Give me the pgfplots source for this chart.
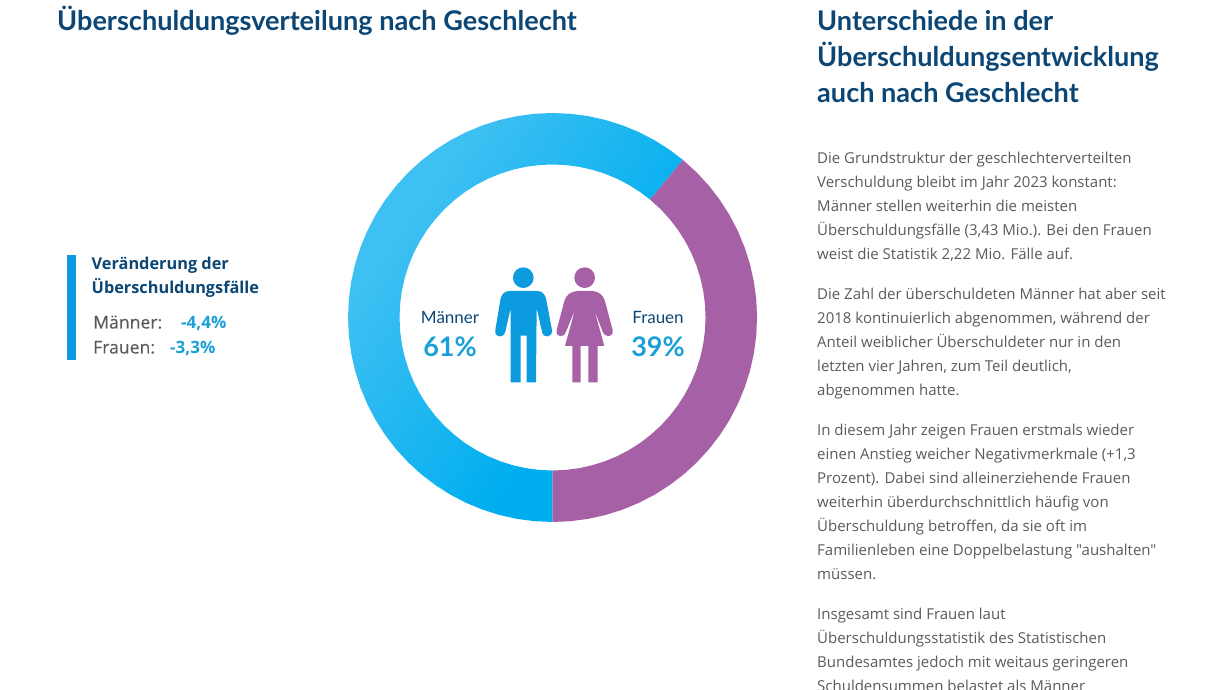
\documentclass[border=0pt]{standalone}
\usepackage{fontspec}
\usepackage{pgfplots}
\pgfplotsset{compat=1.18}
\setmainfont{Open Sans}[Ligatures=TeXOff]
\newfontfamily\headfont{Lato}
\newfontfamily\semifont{Open Sans}[FakeBold=0.25,Ligatures=TeXOff]
\definecolor{headblue}{HTML}{0B4675}
\definecolor{bodygrey}{HTML}{5A5A5A}
\definecolor{statblue}{HTML}{1A9FD9}
\definecolor{barblue}{HTML}{0C9BDE}
\definecolor{ringlight}{HTML}{3FC0F2}
\definecolor{ringblue}{HTML}{00AEEF}
\definecolor{ringpurple}{HTML}{A661A6}
\pgfdeclareverticalshading{ringgrad}{100bp}{color(0bp)=(ringblue); color(38bp)=(ringblue); color(70bp)=(ringlight); color(100bp)=(ringlight)}
\newcommand{\fs}[1]{\fontsize{#1}{#1}\selectfont}
\newcommand{\txt}[3]{\node[anchor=base west,inner sep=0pt,text=bodygrey,font=\fs{15}] at (#1,#2+0.7) {#3};}
\newcommand{\head}[3]{\node[anchor=base west,inner sep=0pt,text=headblue,font=\headfont\bfseries\fs{27.1}] at (#1,#2) {#3};}
\begin{document}
\begin{tikzpicture}
\clip (0,0) rectangle (1226pt,690pt);
\begin{axis}[
  hide axis,
  scale only axis,
  width=1226pt,
  height=690pt,
  xmin=-552.5, xmax=673.5,
  ymin=-372.5, ymax=317.5,
]
% Maenner 61 % = 219.6 deg clockwise from the bottom
\addplot[data cs=polar, draw=none, shade, shading=ringgrad, shading angle=55] coordinates {
 (270,204.5)(265,204.5)(260,204.5)(255,204.5)(250,204.5)(245,204.5)(240,204.5)(235,204.5)(230,204.5)(225,204.5)
 (220,204.5)(215,204.5)(210,204.5)(205,204.5)(200,204.5)(195,204.5)(190,204.5)(185,204.5)(180,204.5)(175,204.5)
 (170,204.5)(165,204.5)(160,204.5)(155,204.5)(150,204.5)(145,204.5)(140,204.5)(135,204.5)(130,204.5)(125,204.5)
 (120,204.5)(115,204.5)(110,204.5)(105,204.5)(100,204.5)(95,204.5)(90,204.5)(85,204.5)(80,204.5)(75,204.5)
 (70,204.5)(65,204.5)(60,204.5)(55,204.5)(50.4,204.5)
 (50.4,153)(55,153)(60,153)(65,153)(70,153)(75,153)(80,153)(85,153)(90,153)(95,153)
 (100,153)(105,153)(110,153)(115,153)(120,153)(125,153)(130,153)(135,153)(140,153)(145,153)
 (150,153)(155,153)(160,153)(165,153)(170,153)(175,153)(180,153)(185,153)(190,153)(195,153)
 (200,153)(205,153)(210,153)(215,153)(220,153)(225,153)(230,153)(235,153)(240,153)(245,153)
 (250,153)(255,153)(260,153)(265,153)(270,153)
};
% Frauen 39 % = 140.4 deg
\addplot[data cs=polar, draw=none, fill=ringpurple] coordinates {
 (270,204.5)(275,204.5)(280,204.5)(285,204.5)(290,204.5)(295,204.5)(300,204.5)(305,204.5)(310,204.5)(315,204.5)
 (320,204.5)(325,204.5)(330,204.5)(335,204.5)(340,204.5)(345,204.5)(350,204.5)(355,204.5)(360,204.5)(365,204.5)
 (370,204.5)(375,204.5)(380,204.5)(385,204.5)(390,204.5)(395,204.5)(400,204.5)(405,204.5)(410.4,204.5)
 (410.4,153)(405,153)(400,153)(395,153)(390,153)(385,153)(380,153)(375,153)(370,153)(365,153)
 (360,153)(355,153)(350,153)(345,153)(340,153)(335,153)(330,153)(325,153)(320,153)(315,153)
 (310,153)(305,153)(300,153)(295,153)(290,153)(285,153)(280,153)(275,153)(270,153)
};
\end{axis}
% page coordinates: 1 unit = 1 px, y downwards
\begin{scope}[x=1pt,y=-1pt,yshift=690pt]
\head{57}{30.7}{Überschuldungsverteilung nach Geschlecht}
\head{817}{30.7}{Unterschiede in der}
\head{817}{66.7}{Überschuldungsentwicklung}
\head{817}{102.7}{auch nach Geschlecht}

% left panel
\fill[barblue] (67,255) rectangle (75.5,360.5);
\node[anchor=base west,inner sep=0pt,text=headblue,font=\bfseries\fs{16.3}] at (91.5,269.5) {Veränderung der};
\node[anchor=base west,inner sep=0pt,text=headblue,font=\bfseries\fs{16.3}] at (91.5,293.2) {Überschuldungsfälle};
\node[anchor=base west,inner sep=0pt,text=bodygrey,font=\semifont\fs{17.6}] at (93,328.5) {Männer:};
\node[anchor=base west,inner sep=0pt,text=bodygrey,font=\semifont\fs{17.6}] at (93,353.5) {Frauen:};
\node[anchor=base west,inner sep=0pt,text=statblue,font=\bfseries\fs{17}] at (181,328.5) {-4,4\%};
\node[anchor=base west,inner sep=0pt,text=statblue,font=\bfseries\fs{17}] at (170,353.5) {-3,3\%};

% centre labels
\node[anchor=base,inner sep=0pt,text=headblue,font=\headfont\fs{17}] at (450,324) {Männer};
\node[anchor=base,inner sep=0pt,text=headblue,font=\headfont\fs{17}] at (658,324) {Frauen};
\node[anchor=base,inner sep=0pt,text=statblue,font=\headfont\bfseries\fs{27}] at (450,356.5) {61\%};
\node[anchor=base,inner sep=0pt,text=statblue,font=\headfont\bfseries\fs{27}] at (658,356.5) {39\%};

% figures, traced in 3x crop coordinates
\begin{scope}[shift={(410,255)},x=0.3333pt,y=-0.3333pt]
\fill[barblue] (340,68) circle[radius=31];
\fill[barblue] (300,108) -- (380,108) .. controls (395,108) and (403,115) .. (408,130) -- (426,225)
  .. controls (428,248) and (400,252) .. (396,230) -- (380,160) -- (378,382) -- (350,382) -- (350,242)
  -- (332,242) -- (332,382) -- (302,382) -- (302,160) -- (286,230)
  .. controls (280,252) and (252,248) .. (256,225) -- (272,130)
  .. controls (277,115) and (285,108) .. (300,108) -- cycle;
\fill[ringpurple] (524,68) circle[radius=31];
\fill[ringpurple] (505,108) -- (545,108) .. controls (570,110) and (577,120) .. (584,135) -- (608,225)
  .. controls (612,248) and (585,250) .. (578,230) -- (553,165) -- (583,273) -- (563,273) -- (563,382)
  -- (535,382) -- (535,273) -- (512,273) -- (512,382) -- (487,382) -- (487,273) -- (465,273)
  -- (495,165) -- (468,230) .. controls (462,250) and (436,248) .. (440,225) -- (464,135)
  .. controls (470,120) and (480,110) .. (505,108) -- cycle;
\end{scope}

% right column
\txt{817}{163}{Die Grundstruktur der geschlechterverteilten}
\txt{817}{187}{Verschuldung bleibt im Jahr 2023 konstant:}
\txt{817}{211}{Männer stellen weiterhin die meisten}
\txt{817}{235}{Überschuldungsfälle (3,43 Mio.). Bei den Frauen}
\txt{817}{259}{weist die Statistik 2,22 Mio. Fälle auf.}
\txt{817}{299}{Die Zahl der überschuldeten Männer hat aber seit}
\txt{817}{323}{2018 kontinuierlich abgenommen, während der}
\txt{817}{347}{Anteil weiblicher Überschuldeter nur in den}
\txt{817}{371}{letzten vier Jahren, zum Teil deutlich,}
\txt{817}{395}{abgenommen hatte.}
\txt{817}{435}{In diesem Jahr zeigen Frauen erstmals wieder}
\txt{817}{459}{einen Anstieg weicher Negativmerkmale (+1,3}
\txt{817}{483}{Prozent). Dabei sind alleinerziehende Frauen}
\txt{817}{507}{weiterhin überdurchschnittlich häufig von}
\txt{817}{531}{Überschuldung betroffen, da sie oft im}
\txt{817}{555}{Familienleben eine Doppelbelastung "aushalten"}
\txt{817}{579}{müssen.}
\txt{817}{619}{Insgesamt sind Frauen laut}
\txt{817}{643}{Überschuldungsstatistik des Statistischen}
\txt{817}{667}{Bundesamtes jedoch mit weitaus geringeren}
\txt{817}{691}{Schuldensummen belastet als Männer}
\end{scope}
\end{tikzpicture}
\end{document}
